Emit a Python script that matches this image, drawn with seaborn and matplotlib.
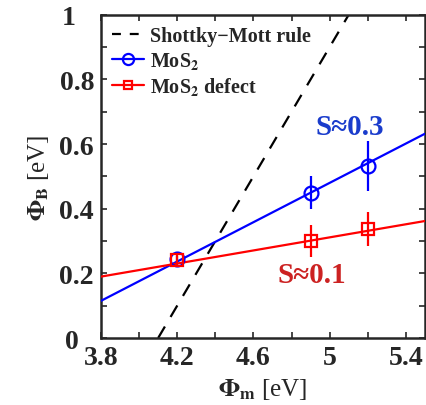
import numpy as np
import pandas as pd
import matplotlib
matplotlib.use("Agg")
import matplotlib.pyplot as plt
from matplotlib.lines import Line2D
from matplotlib.ticker import MultipleLocator
from matplotlib.transforms import ScaledTranslation
import seaborn as sns

# data
phi_m = [4.2, 4.9, 5.2]
mos2_phiB = [0.245, 0.45, 0.533]
mos2_err = [0.01, 0.052, 0.077]
defect_phiB = [0.24, 0.30, 0.337]
defect_err = [0.02, 0.05, 0.052]
fit_x = [3.8, 5.5]
mos2_fit = [0.115, 0.632]
defect_fit = [0.19, 0.362]
sm_x = [4.1, 5.1]
sm_y = [0.0, 1.0]
x_ticks = [3.8, 4.2, 4.6, 5.0, 5.4]
x_ticklabels = ["3.8", "4.2", "4.6", "5", "5.4"]
y_ticks = [0, 0.2, 0.4, 0.6, 0.8, 1.0]
y_ticklabels = ["0", "0.2", "0.4", "0.6", "0.8", "1"]

sns.set_style("ticks")
plt.rcParams["font.family"] = ["Liberation Serif", "DejaVu Serif"]
plt.rcParams["font.weight"] = "bold"
plt.rcParams["mathtext.fontset"] = "stix"
plt.rcParams["mathtext.default"] = "bf"

BLUE = "#0000ff"
RED = "#ff0000"

fig = plt.figure(figsize=(4.27, 4.06), dpi=100)
ax = fig.add_axes([0.2365, 0.165, 0.7585, 0.796])

sm_df = pd.DataFrame({"x": sm_x, "y": sm_y})
sns.lineplot(data=sm_df, x="x", y="y", ax=ax, color="black", lw=1.6,
             linestyle=(0, (6, 5)), zorder=2)

fit_df = pd.DataFrame({"x": fit_x, "mos2": mos2_fit, "defect": defect_fit})
sns.lineplot(data=fit_df, x="x", y="mos2", ax=ax, color=BLUE, lw=1.6, zorder=3)
sns.lineplot(data=fit_df, x="x", y="defect", ax=ax, color=RED, lw=1.6, zorder=3)

ax.errorbar(phi_m, mos2_phiB, yerr=mos2_err, fmt="o", color=BLUE, mfc="none",
            mec=BLUE, ms=10, mew=1.6, elinewidth=1.6, capsize=0, zorder=4)
ax.errorbar(phi_m, defect_phiB, yerr=defect_err, fmt="s", color=RED, mfc="none",
            mec=RED, ms=8, mew=1.6, elinewidth=1.6, capsize=0, zorder=5)

ax.set_xlim(3.8, 5.5)
ax.set_ylim(0, 1)
ax.set_xticks(x_ticks)
ax.set_xticklabels(x_ticklabels)
ax.set_yticks(y_ticks)
ax.set_yticklabels(y_ticklabels)
ax.xaxis.set_minor_locator(MultipleLocator(0.2))
ax.yaxis.set_minor_locator(MultipleLocator(0.1))
ax.tick_params(which="both", direction="in", top=True, right=True,
               length=4, width=1.2, labelsize=20, pad=5)
ax.tick_params(which="minor", length=4)
for s in ax.spines.values():
    s.set_linewidth(1.8)
    s.set_visible(True)
for lab in ax.get_xticklabels() + ax.get_yticklabels():
    lab.set_fontweight("bold")

# shift the single-character y labels left, as in the reference
ylabs = ax.get_yticklabels()
for lab in ylabs:
    if lab.get_text() == "0":
        lab.set_transform(lab.get_transform() + ScaledTranslation(-15 / 100, 0, fig.dpi_scale_trans))
    elif lab.get_text() == "1":
        lab.set_transform(lab.get_transform() + ScaledTranslation(-18 / 100, 0, fig.dpi_scale_trans))

ax.set_xlabel(r"$\Phi_{\mathbf{m}}$ [eV]", fontsize=18, fontweight="normal", labelpad=4)
ax.set_ylabel(r"$\Phi_{\mathbf{B}}$ [eV]", fontsize=18, fontweight="normal", labelpad=6)

ax.text(5.107, 0.656, "S≈0.3", color="#1a3ccc", fontsize=21, fontweight="bold",
        ha="center", va="center")
ax.text(4.905, 0.198, "S≈0.1", color="#cc2222", fontsize=21, fontweight="bold",
        ha="center", va="center")

handles = [
    Line2D([], [], color="black", lw=1.6, linestyle=(0, (4, 4))),
    Line2D([], [], color=BLUE, lw=1.6, marker="o", mfc="none", ms=8, mew=1.6),
    Line2D([], [], color=RED, lw=1.6, marker="s", mfc="none", ms=6, mew=1.6),
]
labels = ["Shottky\u2212Mott rule", r"MoS$_2$", r"MoS$_2$ defect"]
ax.legend(handles, labels, loc="upper left", frameon=False,
          handlelength=1.6, handletextpad=0.3, borderaxespad=0.15,
          labelspacing=0.2, prop={"weight": "bold", "size": 14.5})

fig.savefig("out.png", dpi=100)
